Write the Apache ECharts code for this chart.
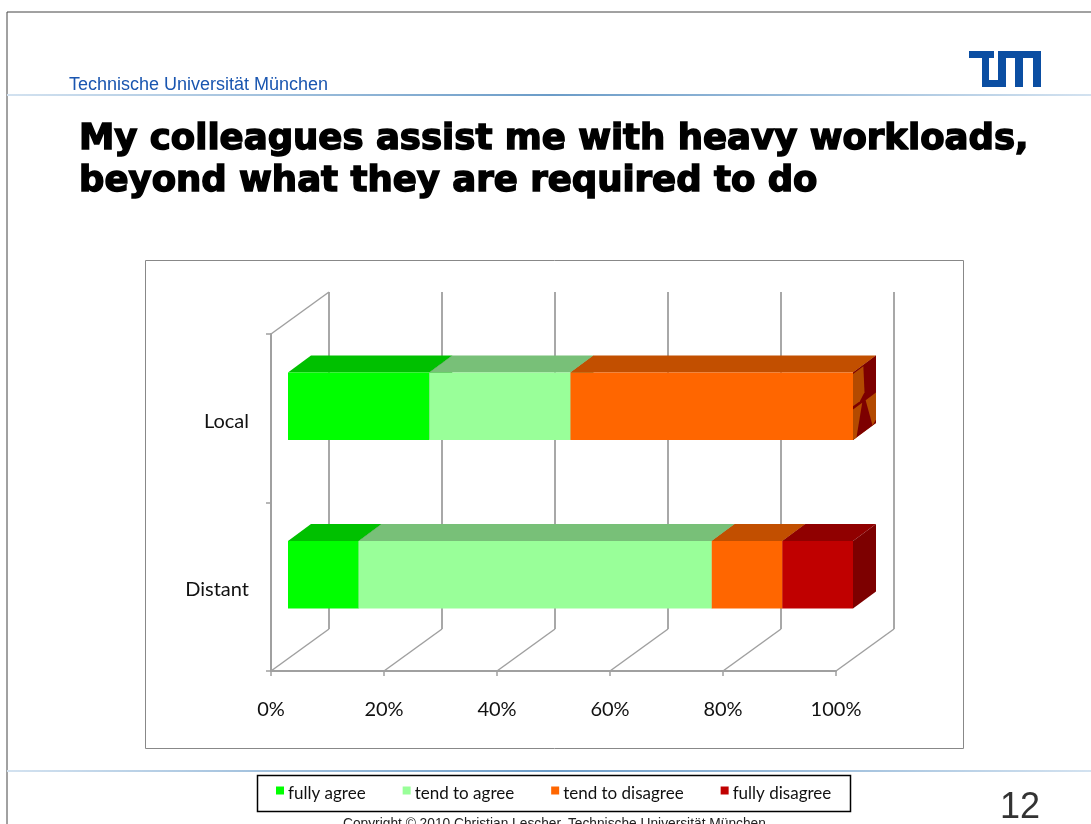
<!DOCTYPE html>
<html>
<head>
<meta charset="utf-8">
<style>
    html, body { margin: 0; padding: 0; background: #fff; }
    #main { width: 1091px; height: 824px; }
</style>
<script src="https://cdn.jsdelivr.net/npm/echarts@6/dist/echarts.min.js"></script>
</head>
<body>
<div id="main"></div>
<script>
    // values, percent of answers
    var categories = ['Distant', 'Local'];
    var fullyAgree = [12.5, 25];
    var tendAgree = [62.5, 25];
    var tendDisagree = [12.5, 50];
    var fullyDisagree = [12.5, 0];
    var xTicks = [0, 20, 40, 60, 80, 100];

    var seriesNames = ['fully agree', 'tend to agree', 'tend to disagree', 'fully disagree'];
    var seriesValues = [fullyAgree, tendAgree, tendDisagree, fullyDisagree];
    // front, top, side of each box
    var seriesColors = [
        ['#00ff00', '#00c000', '#008000'],
        ['#99ff99', '#78c078', '#5c995c'],
        ['#ff6600', '#c24f00', '#b34a00'],
        ['#c00000', '#900000', '#7d0000']
    ];

    var wallDx = 58, wallDy = -42;   // depth of the 3d floor
    var barDx = 17, barDy = -12;     // where the box sits on the floor
    var boxDx = 23, boxDy = -17;     // depth of a box

    function poly(points, color) {
        return { type: 'polygon', shape: { points: points }, style: { fill: color } };
    }

    // one stacked segment: [start, end, category index]
    function renderBox(colors) {
        return function (params, api) {
            var a = api.coord([api.value(0), api.value(2)]);
            var b = api.coord([api.value(1), api.value(2)]);
            var h = api.size([0, 1])[1] * 0.4;
            var x0 = a[0] + barDx, x1 = b[0] + barDx;
            var y0 = a[1] + barDy - h / 2, y1 = a[1] + barDy + h / 2;
            var side = [[x1, y0], [x1 + boxDx, y0 + boxDy], [x1 + boxDx, y1 + boxDy], [x1, y1]];
            var children = [
                poly([[x0, y0], [x1, y0], [x1 + boxDx, y0 + boxDy], [x0 + boxDx, y0 + boxDy]], colors[1]),
                poly(side, colors[2]),
                poly([[x0, y0], [x1, y0], [x1, y1], [x0, y1]], colors[0])
            ];
            // empty segment fights with the orange end cap in the original
            if (api.value(1) === api.value(0)) {
                var f = function (u, v) {
                    return [x1 + boxDx * u, y0 + boxDy * u + (y1 - y0) * v];
                };
                var brown = seriesColors[2][2];
                children.push(poly([f(0, 0.02), f(0.45, 0.02), f(0.5, 0.42), f(0.3, 0.5), f(0, 0.5)], brown));
                children.push(poly([f(0, 0.55), f(0.4, 0.55), f(0.15, 1), f(0, 1)], brown));
                children.push(poly([f(0.55, 0.55), f(1, 0.55), f(1, 0.95), f(0.85, 1)], brown));
            }
            return { type: 'group', children: children };
        };
    }

    function renderWall(params, api) {
        var p = api.coord([api.value(0), 0]);
        var bottom = params.coordSys.y + params.coordSys.height;
        var top = params.coordSys.y;
        var children = [
            { type: 'line', shape: { x1: p[0], y1: bottom, x2: p[0] + wallDx, y2: bottom + wallDy }, style: { stroke: '#a0a0a0', lineWidth: 1.5 } },
            { type: 'line', shape: { x1: p[0] + wallDx, y1: bottom + wallDy, x2: p[0] + wallDx, y2: top + wallDy }, style: { stroke: '#a8a8a8', lineWidth: 2 } }
        ];
        if (params.dataIndex === 0) {
            children.push({ type: 'line', shape: { x1: p[0], y1: top, x2: p[0] + wallDx, y2: top + wallDy }, style: { stroke: '#a0a0a0', lineWidth: 1.5 } });
        }
        return { type: 'group', children: children };
    }

    var series = [{
        name: 'wall',
        type: 'custom',
        silent: true,
        z: 1,
        renderItem: renderWall,
        encode: { x: 0 },
        data: xTicks.map(function (t) { return [t]; })
    }];
    var running = categories.map(function () { return 0; });
    seriesNames.forEach(function (name, s) {
        series.push({
            name: name,
            type: 'custom',
            silent: true,
            z: 3 + s,
            itemStyle: { color: seriesColors[s][0] },
            renderItem: renderBox(seriesColors[s]),
            encode: { x: [0, 1], y: 2 },
            data: categories.map(function (c, i) {
                var item = [running[i], running[i] + seriesValues[s][i], i];
                running[i] += seriesValues[s][i];
                return item;
            })
        });
    });

    function blueLine(y) {
        return {
            type: 'rect', z: 1, shape: { x: 7, y: y, width: 1084, height: 2 },
            style: { fill: new echarts.graphic.LinearGradient(0, 0, 1, 0, [
                { offset: 0, color: '#d3e2f0' },
                { offset: 0.5, color: '#6b9cc8' },
                { offset: 1, color: '#d3e2f0' }
            ]) }
        };
    }
    var logoBlue = '#0b4ea2';
    function logoRect(x, y, w, h) {
        return { type: 'rect', z: 1, shape: { x: x, y: y, width: w, height: h }, style: { fill: logoBlue } };
    }

    var myChart = echarts.init(document.getElementById('main'), null, { renderer: 'canvas' });
    var option = {
        animation: false,
        backgroundColor: '#fff',
        title: [
            { text: 'Technische Universität München', left: 69, top: 76, padding: 0, textStyle: { fontFamily: 'Liberation Sans', fontSize: 18, fontWeight: 'normal', color: '#1a56b0' } },
            { text: 'My colleagues assist me with heavy workloads,\nbeyond what they are required to do', left: 79, top: 119, padding: 0,
              textStyle: { fontFamily: 'DejaVu Sans', fontSize: 35.5, fontWeight: 'bold', color: '#000', lineHeight: 42, textBorderColor: '#000', textBorderWidth: 1.5 } },
            { text: '12', left: 1000, top: 790, padding: 0, textStyle: { fontFamily: 'Liberation Sans', fontSize: 36, fontWeight: 'normal', color: '#333' } },
            { text: 'Copyright © 2010 Christian Lescher, Technische Universität München', left: 343, top: 817, padding: 0, textStyle: { fontFamily: 'Liberation Sans', fontSize: 13.75, fontWeight: 'normal', color: '#222' } }
        ],
        graphic: [
            { type: 'line', z: 1, shape: { x1: 7, y1: 12, x2: 1091, y2: 12 }, style: { stroke: '#444', lineWidth: 1 } },
            { type: 'line', z: 1, shape: { x1: 7, y1: 12, x2: 7, y2: 824 }, style: { stroke: '#444', lineWidth: 1 } },
            blueLine(94),
            blueLine(770),
            logoRect(969, 51, 25, 7),
            logoRect(982, 51, 7, 36),
            logoRect(982, 80, 24, 7),
            logoRect(998, 51, 8, 36),
            logoRect(998, 51, 43, 7),
            logoRect(1015, 51, 8, 36),
            logoRect(1033, 51, 8, 36),
            { type: 'rect', z: 0, shape: { x: 145.5, y: 260.5, width: 818, height: 488 }, style: { fill: '#fff', stroke: '#888', lineWidth: 1 } },
            { type: 'rect', z: 1, shape: { x: 257.5, y: 775.5, width: 593, height: 36 }, style: { fill: '#fff', stroke: '#000', lineWidth: 1.5 } }
        ],
        grid: { left: 271, right: 255, top: 334, bottom: 153, containLabel: false },
        legend: {
            data: seriesNames,
            left: 276,
            top: 785,
            padding: 0,
            z: 5,
            // square sits in the upper part of the icon box, the text hangs a bit lower
            icon: 'path://M0,0H8V8H0ZM8,14L8,14',
            itemWidth: 8,
            itemHeight: 14,
            itemGap: 37,
            selectedMode: false,
            textStyle: { fontFamily: 'Lato', fontSize: 17, color: '#111', padding: [0, 0, 0, -1] }
        },
        xAxis: {
            type: 'value',
            min: 0,
            max: 100,
            interval: 20,
            axisLine: { show: true, lineStyle: { color: '#a0a0a0', width: 2 } },
            axisTick: { show: true, length: 5, lineStyle: { color: '#a0a0a0', width: 1.5 } },
            splitLine: { show: false },
            axisLabel: { margin: 29, formatter: '{value}%', fontFamily: 'Lato', fontSize: 20, color: '#111' }
        },
        yAxis: {
            type: 'category',
            data: categories,
            axisLine: { show: true, lineStyle: { color: '#a0a0a0', width: 2 } },
            axisTick: { show: true, length: 5, lineStyle: { color: '#a0a0a0', width: 1.5 } },
            splitLine: { show: false },
            axisLabel: { margin: 22, fontFamily: 'Lato', fontSize: 20, color: '#111', verticalAlign: 'top', lineHeight: 6 }
        },
        series: series
    };
    myChart.setOption(option);
</script>
</body>
</html>
